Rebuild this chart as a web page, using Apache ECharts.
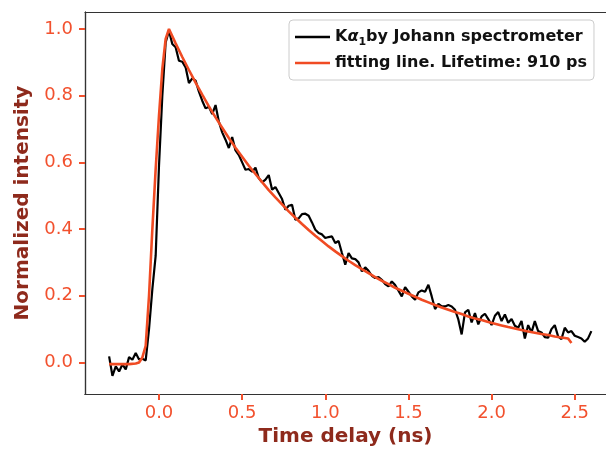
<!DOCTYPE html>
<html>
<head>
<meta charset="utf-8">
<script src="https://cdn.jsdelivr.net/npm/echarts@6/dist/echarts.min.js"></script>
<style>
  html, body { margin: 0; padding: 0; background: #fff; }
  #chart { width: 606px; height: 452px; }
</style>
</head>
<body>
<div id="chart"></div>
<script>
// Measured trace: time delay (ns) and normalized intensity
const dataTime = [
  -0.30,-0.28,-0.26,-0.24,-0.22,-0.20,-0.18,-0.16,-0.14,-0.12,
  -0.10,-0.08,-0.06,-0.04,-0.02,0.00,0.02,0.04,0.06,0.08,
  0.10,0.12,0.14,0.16,0.18,0.20,0.22,0.24,0.26,0.28,
  0.30,0.32,0.34,0.36,0.38,0.40,0.42,0.44,0.46,0.48,
  0.50,0.52,0.54,0.56,0.58,0.60,0.62,0.64,0.66,0.68,
  0.70,0.72,0.74,0.76,0.78,0.80,0.82,0.84,0.86,0.88,
  0.90,0.92,0.94,0.96,0.98,1.00,1.02,1.04,1.06,1.08,
  1.10,1.12,1.14,1.16,1.18,1.20,1.22,1.24,1.26,1.28,
  1.30,1.32,1.34,1.36,1.38,1.40,1.42,1.44,1.46,1.48,
  1.50,1.52,1.54,1.56,1.58,1.60,1.62,1.64,1.66,1.68,
  1.70,1.72,1.74,1.76,1.78,1.80,1.82,1.84,1.86,1.88,
  1.90,1.92,1.94,1.96,1.98,2.00,2.02,2.04,2.06,2.08,
  2.10,2.12,2.14,2.16,2.18,2.20,2.22,2.24,2.26,2.28,
  2.30,2.32,2.34,2.36,2.38,2.40,2.42,2.44,2.46,2.48,
  2.50,2.52,2.54,2.56,2.58,2.60
];
const dataIntensity = [
  0.018,-0.040,-0.012,-0.027,-0.006,-0.021,0.016,0.008,0.028,0.009,
  0.011,0.006,0.10,0.22,0.32,0.59,0.80,0.96,0.995,0.955,
  0.945,0.905,0.902,0.885,0.838,0.852,0.845,0.812,0.785,0.762,
  0.767,0.745,0.772,0.722,0.690,0.668,0.643,0.676,0.636,0.622,
  0.600,0.578,0.580,0.572,0.584,0.553,0.540,0.548,0.562,0.518,
  0.526,0.508,0.490,0.458,0.470,0.473,0.428,0.432,0.445,0.446,
  0.440,0.420,0.398,0.388,0.384,0.373,0.376,0.378,0.358,0.364,
  0.328,0.293,0.328,0.312,0.310,0.300,0.273,0.285,0.275,0.260,
  0.253,0.256,0.248,0.235,0.228,0.243,0.232,0.215,0.198,0.226,
  0.212,0.198,0.188,0.210,0.216,0.212,0.233,0.198,0.160,0.176,
  0.168,0.168,0.172,0.168,0.158,0.129,0.084,0.150,0.158,0.120,
  0.148,0.114,0.138,0.146,0.130,0.112,0.140,0.151,0.124,0.144,
  0.119,0.130,0.110,0.104,0.124,0.072,0.112,0.090,0.124,0.094,
  0.090,0.076,0.074,0.100,0.112,0.078,0.070,0.104,0.090,0.094,
  0.080,0.076,0.072,0.062,0.072,0.094
];

// Fitted decay curve
const fitTime = [
  -0.30,-0.26,-0.22,-0.18,-0.14,-0.12,-0.10,-0.08,-0.06,-0.04,
  -0.02,0.00,0.02,0.04,0.06,
  0.10,0.14,0.18,0.22,0.26,0.30,0.34,0.38,0.42,0.46,
  0.50,0.54,0.58,0.62,0.66,0.70,0.74,0.78,0.82,0.86,
  0.90,0.94,0.98,1.02,1.06,1.10,1.14,1.18,1.22,1.26,
  1.30,1.34,1.38,1.42,1.46,1.50,1.54,1.58,1.62,1.66,
  1.70,1.74,1.78,1.82,1.86,1.90,1.94,1.98,2.02,2.06,
  2.10,2.14,2.18,2.22,2.26,2.30,2.34,2.38,2.42,2.46,
  2.48
];
const fitIntensity = [
  -0.005,-0.005,-0.005,-0.005,-0.003,0.0,0.015,0.05,0.20,0.40,
  0.58,0.74,0.88,0.97,1.0,
  0.957,0.916,0.877,0.839,0.803,0.768,0.735,0.704,0.673,0.644,
  0.617,0.590,0.565,0.541,0.517,0.495,0.474,0.453,0.434,0.415,
  0.397,0.380,0.364,0.348,0.333,0.319,0.305,0.292,0.280,0.268,
  0.256,0.245,0.235,0.224,0.215,0.206,0.197,0.188,0.180,0.172,
  0.165,0.158,0.151,0.145,0.138,0.132,0.127,0.121,0.116,0.111,
  0.106,0.102,0.097,0.093,0.089,0.085,0.082,0.078,0.075,0.072,
  0.058
];

const xTicks = [0.0, 0.5, 1.0, 1.5, 2.0, 2.5];
const yTicks = [0.0, 0.2, 0.4, 0.6, 0.8, 1.0];

const measuredName = 'Kα1by Johann spectrometer';
const fitName = 'fitting line. Lifetime: 910 ps';

const FONT = 'DejaVu Sans';
const TICK_COLOR = '#F2512E';
const TITLE_COLOR = '#8E2A1C';
const SPINE = '#333333';
const DATA_COLOR = '#000000';
const FIT_COLOR = '#F04B23';

// visible part of the axes; the frame's right edge falls just past the canvas
const X_MIN = -0.445, X_MAX = 2.688;
const Y_MIN = -0.095, Y_MAX = 1.051;

const pairs = (xs, ys) => xs.map((x, i) => [x, ys[i]]);

const tickMarks = values => ({
  show: true, customValues: values, length: 6,
  lineStyle: { color: TICK_COLOR, width: 2 }
});

const chart = echarts.init(document.getElementById('chart'));

chart.setOption({
  animation: false,
  grid: { left: 85, right: 0, top: 12, bottom: 57 },
  legend: {
    orient: 'vertical',
    left: 289, top: 20,
    padding: [9, 7, 9, 6],
    icon: 'rect',
    itemWidth: 35, itemHeight: 2.5, itemGap: 7,
    backgroundColor: 'rgba(255,255,255,0.85)',
    borderColor: '#cccccc', borderWidth: 1, borderRadius: 4,
    textStyle: { fontFamily: FONT, fontWeight: 'bold', fontSize: 16, color: '#111',
      rich: {
        b: { fontFamily: FONT, fontWeight: 'bold', fontSize: 16, color: '#111' },
        a: { fontFamily: FONT, fontStyle: 'italic', fontSize: 16, color: '#111' },
        s: { fontFamily: FONT, fontSize: 11, color: '#111', verticalAlign: 'bottom', lineHeight: 22 }
      }
    },
    formatter: function (name) {
      if (name === measuredName) return '{b|K}{a|α}{s|1}{b|by Johann spectrometer}';
      return name;
    },
    data: [measuredName, fitName]
  },
  xAxis: [
    {
      type: 'value',
      position: 'bottom',
      min: X_MIN, max: X_MAX,
      name: 'Time delay (ns)',
      nameLocation: 'middle', nameGap: 32,
      nameTextStyle: { fontFamily: FONT, fontWeight: 'bold', fontSize: 20, color: TITLE_COLOR },
      axisLine: { show: true, onZero: false, lineStyle: { color: SPINE, width: 1.2 } },
      axisTick: tickMarks(xTicks),
      axisLabel: { customValues: xTicks, margin: 10, fontFamily: FONT, fontSize: 18, color: TICK_COLOR,
        formatter: v => v.toFixed(1) },
      splitLine: { show: false }
    },
    {
      // top frame edge
      type: 'value',
      position: 'top',
      min: X_MIN, max: X_MAX,
      axisLine: { show: true, onZero: false, lineStyle: { color: SPINE, width: 1.2 } },
      axisTick: { show: false },
      axisLabel: { show: false },
      splitLine: { show: false }
    },
    {
      // tick marks along the bottom edge
      type: 'value',
      position: 'bottom',
      min: X_MIN, max: X_MAX,
      axisLine: { show: true, onZero: false, lineStyle: { color: SPINE, width: 1.2 } },
      axisTick: tickMarks(xTicks),
      axisLabel: { show: false },
      splitLine: { show: false }
    }
  ],
  yAxis: [
    {
      type: 'value',
      position: 'left',
      min: Y_MIN, max: Y_MAX,
      name: 'Normalized intensity',
      nameLocation: 'middle', nameGap: 52,
      nameTextStyle: { fontFamily: FONT, fontWeight: 'bold', fontSize: 20, color: TITLE_COLOR },
      axisLine: { show: true, onZero: false, lineStyle: { color: SPINE, width: 1.2 } },
      axisTick: tickMarks(yTicks),
      axisLabel: { customValues: yTicks, margin: 12, fontFamily: FONT, fontSize: 18, color: TICK_COLOR,
        formatter: v => v.toFixed(1) },
      splitLine: { show: false }
    },
    {
      // tick marks along the left edge
      type: 'value',
      position: 'left',
      min: Y_MIN, max: Y_MAX,
      axisLine: { show: true, onZero: false, lineStyle: { color: SPINE, width: 1.2 } },
      axisTick: tickMarks(yTicks),
      axisLabel: { show: false },
      splitLine: { show: false }
    }
  ],
  series: [
    {
      name: measuredName,
      type: 'line',
      xAxisIndex: 0, yAxisIndex: 0,
      data: pairs(dataTime, dataIntensity),
      symbol: 'none',
      lineStyle: { color: DATA_COLOR, width: 2.2 },
      itemStyle: { color: DATA_COLOR }
    },
    {
      name: fitName,
      type: 'line',
      xAxisIndex: 0, yAxisIndex: 0,
      data: pairs(fitTime, fitIntensity),
      symbol: 'none',
      lineStyle: { color: FIT_COLOR, width: 2.6 },
      itemStyle: { color: FIT_COLOR }
    }
  ]
});
</script>
</body>
</html>
